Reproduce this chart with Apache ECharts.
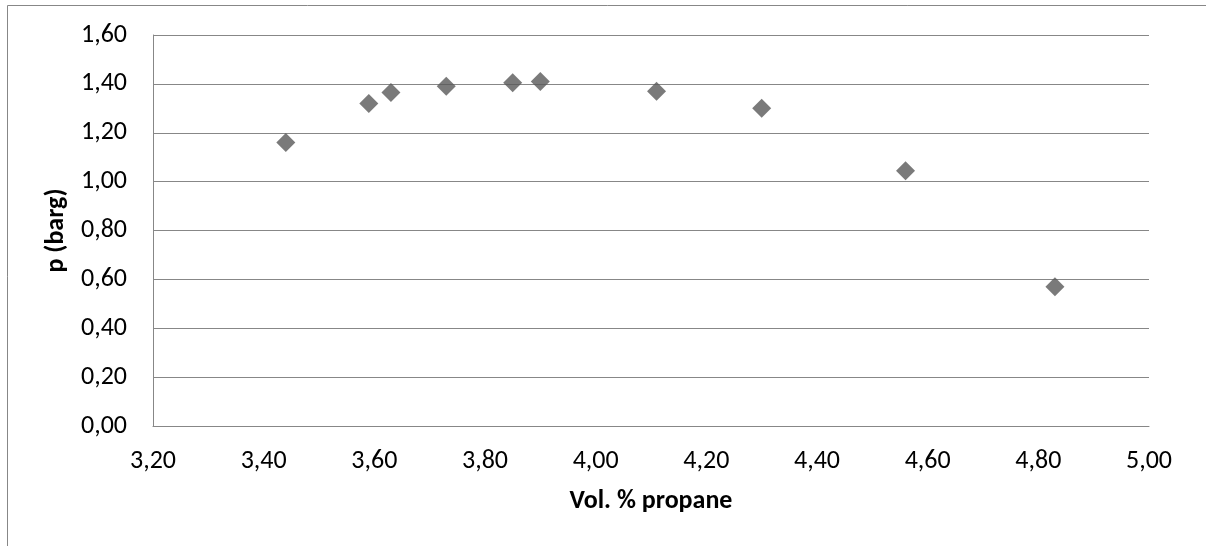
<!DOCTYPE html>
<html>
<head>
<meta charset="utf-8">
<style>
  html, body { margin: 0; padding: 0; background: #ffffff; }
  #chart { width: 1206px; height: 546px; }
</style>
<script src="https://cdn.jsdelivr.net/npm/echarts@6/dist/echarts.min.js"></script>
</head>
<body>
<div id="chart"></div>
<script>
// Propane concentration (vol. %) and measured peak overpressure (barg)
const volPropane = [3.44, 3.59, 3.63, 3.73, 3.85, 3.90, 4.11, 4.30, 4.56, 4.83];
const pressure   = [1.16, 1.32, 1.365, 1.39, 1.405, 1.41, 1.37, 1.30, 1.045, 0.57];

const xTitle = 'Vol. % propane';
const yTitle = 'p (barg)';

const fontFamily = "Carlito, Calibri, 'Open Sans', sans-serif";
const gridGray = '#878787';

const points = volPropane.map((v, i) => [v, pressure[i]]);
const fmt = v => v.toFixed(2).replace('.', ',');

const chart = echarts.init(document.getElementById('chart'), null, { renderer: 'canvas' });
chart.setOption({
  animation: false,
  backgroundColor: '#ffffff',
  textStyle: { fontFamily: fontFamily },
  graphic: [{
    type: 'rect',
    shape: { x: 7.5, y: 5.5, width: 1210, height: 560 },
    style: { fill: 'none', stroke: gridGray, lineWidth: 1 },
    silent: true,
    z: -1
  }],
  grid: { left: 153, right: 57, top: 35, bottom: 120 },
  xAxis: {
    type: 'value',
    min: 3.2, max: 5.0, interval: 0.2,
    name: xTitle,
    nameLocation: 'middle',
    nameGap: 62,
    nameTextStyle: { fontFamily: fontFamily, fontSize: 26, fontWeight: 'bold', color: '#000000' },
    axisLine: { show: true, lineStyle: { color: gridGray, width: 1 } },
    axisTick: { show: false },
    splitLine: { show: false },
    axisLabel: {
      margin: 22,
      fontFamily: fontFamily, fontSize: 26, color: '#000000',
      formatter: fmt
    }
  },
  yAxis: {
    type: 'value',
    min: 0, max: 1.6, interval: 0.2,
    name: yTitle,
    nameLocation: 'middle',
    nameGap: 84,
    nameRotate: 90,
    nameTextStyle: { fontFamily: fontFamily, fontSize: 26, fontWeight: 'bold', color: '#000000' },
    axisLine: { show: true, lineStyle: { color: gridGray, width: 1 } },
    axisTick: { show: false },
    splitLine: { show: true, lineStyle: { color: gridGray, width: 1 } },
    axisLabel: {
      margin: 26,
      fontFamily: fontFamily, fontSize: 26, color: '#000000',
      formatter: fmt
    }
  },
  series: [{
    type: 'scatter',
    data: points,
    symbol: 'diamond',
    symbolSize: 19,
    itemStyle: { color: '#595959' }
  }]
});
</script>
</body>
</html>
